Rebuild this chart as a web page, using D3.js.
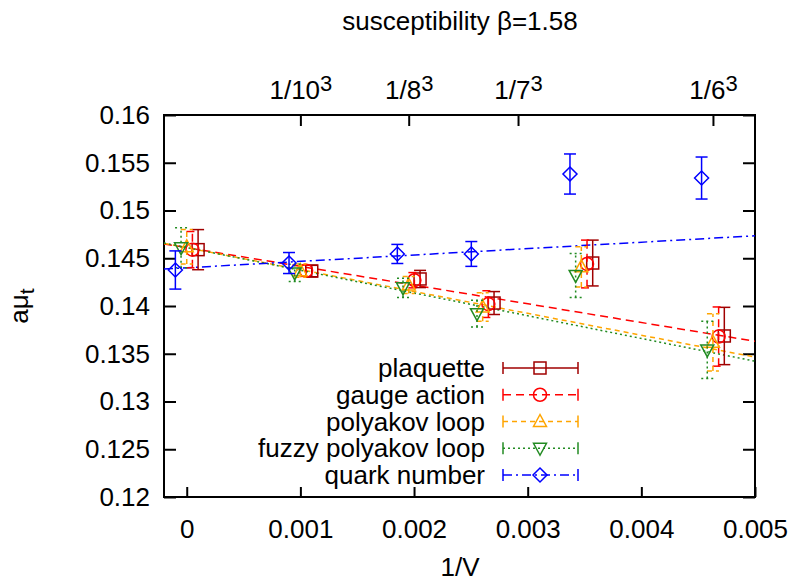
<!DOCTYPE html>
<html><head><meta charset="utf-8">
<script src="https://cdn.jsdelivr.net/npm/d3@7"></script>
<style>body{margin:0;background:#fff;overflow:hidden} text{font-family:"Liberation Sans",Arial,Helvetica,sans-serif;fill:#000}</style>
</head><body><svg id="c" width="798" height="582"></svg>
<script>
// ---- data ----
const volumes = [0, 0.001, 0.001953, 0.002604, 0.003472, 0.00463];
const seriesNames = ["plaquette", "gauge action", "polyakov loop", "fuzzy polyakov loop", "quark number"];
const plaquette      = [0.1459, 0.14366, 0.14283, 0.14031, 0.1445, 0.13686];
const plaquetteErr   = [0.0021, 0.0006, 0.0009, 0.0012, 0.0024, 0.0030];
const gaugeAction    = [0.1459, 0.1437, 0.1427, 0.1402, 0.1444, 0.1368];
const gaugeActionErr = [0.0019, 0.0006, 0.0008, 0.0014, 0.0025, 0.0031];
const polyakov       = [0.1462, 0.1437, 0.1422, 0.1399, 0.1441, 0.1362];
const polyakovErr    = [0.0018, 0.0007, 0.0009, 0.0015, 0.0021, 0.0030];
const fuzzyPolyakov  = [0.1461, 0.14346, 0.1419, 0.1392, 0.1432, 0.1354];
const fuzzyPolyakovErr = [0.0021, 0.0009, 0.0010, 0.0014, 0.0023, 0.0030];
const quarkNumber    = [0.14377, 0.1445, 0.14545, 0.14545, 0.15382, 0.1534];
const quarkNumberErr = [0.0020, 0.0011, 0.0010, 0.0013, 0.0021, 0.0022];
// horizontal display shift of each series (data units)
const xShift = [0.0001, 0.00005, 0, -0.00005, -0.0001];
// linear fits: intercept, slope (null = no fit drawn)
const fitIntercept = [null, 0.14611, 0.1461, 0.14612, 0.1440];
const fitSlope     = [null, -1.96, -2.29, -2.38, 0.67];
const xTicks = [0, 0.001, 0.002, 0.003, 0.004, 0.005];
const xTickLabels = ["0", "0.001", "0.002", "0.003", "0.004", "0.005"];
const yTicks = [0.12, 0.125, 0.13, 0.135, 0.14, 0.145, 0.15, 0.155, 0.16];
const yTickLabels = ["0.12", "0.125", "0.13", "0.135", "0.14", "0.145", "0.15", "0.155", "0.16"];
const topTicks = [0.001, 0.001953, 0.002915, 0.00463];
const topTickBase = ["1/10", "1/8", "1/7", "1/6"];
const topTickSup = ["3", "3", "3", "3"];

// ---- styles ----
const colors = ["#a00000", "#ff0000", "#ffa500", "#228b22", "#0000ff"];
const dashes = [null, "8,5", "5,4", "2,3", "9,4,2,4"];
const errDashes = [null, "8,5", "5,4", "2,3", null];
const shapes = ["square", "circle", "tri", "itri", "diamond"];

const values = [plaquette, gaugeAction, polyakov, fuzzyPolyakov, quarkNumber];
const errs = [plaquetteErr, gaugeActionErr, polyakovErr, fuzzyPolyakovErr, quarkNumberErr];

const L = 164, R = 755, T = 115, B = 497;
const x = d3.scaleLinear().domain([-0.0002, 0.005]).range([L, R]);
const y = d3.scaleLinear().domain([0.12, 0.16]).range([B, T]);
const svg = d3.select("#c");
const FS = 26;

svg.append("defs").append("clipPath").attr("id", "clip")
  .append("rect").attr("x", L).attr("y", T).attr("width", R - L).attr("height", B - T);

// axes
function styleAxis(g) {
  g.select(".domain").remove();
  g.selectAll(".tick line").attr("stroke", "#000").attr("stroke-width", 2);
  g.selectAll(".tick text").attr("font-size", FS).attr("font-family", '"Liberation Sans",Arial,sans-serif').attr("fill", "#000");
}
svg.append("g").attr("transform", `translate(${L},0)`)
  .call(d3.axisLeft(y).tickValues(yTicks).tickFormat((d, i) => yTickLabels[i]).tickSize(-12).tickPadding(14))
  .call(styleAxis);
svg.append("g").attr("transform", `translate(${R},0)`)
  .call(d3.axisRight(y).tickValues(yTicks).tickFormat("").tickSize(-12))
  .call(styleAxis);
svg.append("g").attr("transform", `translate(0,${B})`)
  .call(d3.axisBottom(x).tickValues(xTicks).tickFormat((d, i) => xTickLabels[i]).tickSize(-10).tickPadding(23))
  .call(styleAxis);
const topAx = svg.append("g").attr("transform", `translate(0,${T})`)
  .call(d3.axisTop(x).tickValues(topTicks).tickFormat("").tickSize(-11))
  .call(styleAxis);
topAx.selectAll(".tick").each(function (d, i) {
  const t = d3.select(this).append("text").attr("text-anchor", "middle").attr("y", 99 - T)
    .attr("font-size", FS).attr("fill", "#000");
  t.append("tspan").text(topTickBase[i]);
  t.append("tspan").attr("font-size", 22).attr("dy", -8).text(topTickSup[i]);
});

// frame
svg.append("rect").attr("x", L).attr("y", T).attr("width", R - L).attr("height", B - T)
  .attr("fill", "none").attr("stroke", "#000").attr("stroke-width", 2);

// marker
function marker(g, shape, cx, cy, color) {
  let m;
  if (shape === "square") m = g.append("rect").attr("x", cx - 6).attr("y", cy - 6).attr("width", 12).attr("height", 12);
  else if (shape === "circle") m = g.append("circle").attr("cx", cx).attr("cy", cy).attr("r", 6.5);
  else {
    let pts;
    if (shape === "tri") pts = [[cx, cy - 7], [cx - 6.5, cy + 5], [cx + 6.5, cy + 5]];
    else if (shape === "itri") pts = [[cx, cy + 7], [cx - 6.5, cy - 5], [cx + 6.5, cy - 5]];
    else pts = [[cx, cy - 7], [cx + 7, cy], [cx, cy + 7], [cx - 7, cy]];
    m = g.append("polygon").attr("points", pts.map(p => p.join(",")).join(" "));
  }
  m.attr("fill", "none").attr("stroke", color).attr("stroke-width", 1.5);
}

// fits
const plot = svg.append("g").attr("clip-path", "url(#clip)");
seriesNames.forEach((name, si) => {
  if (fitIntercept[si] === null) return;
  const dom = x.domain();
  plot.append("line")
    .attr("x1", x(dom[0])).attr("y1", y(fitIntercept[si] + fitSlope[si] * dom[0]))
    .attr("x2", x(dom[1])).attr("y2", y(fitIntercept[si] + fitSlope[si] * dom[1]))
    .attr("stroke", colors[si]).attr("stroke-width", 1.5)
    .attr("stroke-dasharray", dashes[si]);
});

// points with error bars
seriesNames.forEach((name, si) => {
  const g = svg.append("g");
  volumes.forEach((v, i) => {
    const cx = x(v + xShift[si]);
    const cy = y(values[si][i]);
    const y1 = y(values[si][i] - errs[si][i]), y2 = y(values[si][i] + errs[si][i]);
    const st = sel => sel.attr("stroke", colors[si]).attr("stroke-width", 1.5).attr("stroke-dasharray", errDashes[si]);
    g.append("line").attr("x1", cx).attr("x2", cx).attr("y1", y1).attr("y2", y2).call(st);
    g.append("line").attr("x1", cx - 6).attr("x2", cx + 6).attr("y1", y1).attr("y2", y1).call(st);
    g.append("line").attr("x1", cx - 6).attr("x2", cx + 6).attr("y1", y2).attr("y2", y2).call(st);
    marker(g, shapes[si], cx, cy, colors[si]);
  });
});

// legend
seriesNames.forEach((name, si) => {
  const ly = 368 + si * 26.75;
  svg.append("text").attr("x", 485).attr("y", ly + 9).attr("text-anchor", "end")
    .attr("font-size", FS).text(name);
  svg.append("line").attr("x1", 503).attr("x2", 578).attr("y1", ly).attr("y2", ly)
    .attr("stroke", colors[si]).attr("stroke-width", 1.5).attr("stroke-dasharray", dashes[si]);
  svg.append("line").attr("x1", 503).attr("x2", 503).attr("y1", ly - 6).attr("y2", ly + 6).attr("stroke", colors[si]).attr("stroke-width", 1.5);
  svg.append("line").attr("x1", 578).attr("x2", 578).attr("y1", ly - 6).attr("y2", ly + 6).attr("stroke", colors[si]).attr("stroke-width", 1.5);
  marker(svg, shapes[si], 540, ly, colors[si]);
});

// titles
svg.append("text").attr("x", 460).attr("y", 30).attr("text-anchor", "middle").attr("font-size", FS)
  .text("susceptibility β=1.58");
svg.append("text").attr("x", 460).attr("y", 576).attr("text-anchor", "middle").attr("font-size", FS)
  .text("1/V");
function yLabel(tx) {
  const t = svg.append("text").attr("transform", `translate(${tx},306) rotate(-90)`)
    .attr("text-anchor", "middle").attr("font-size", FS);
  t.append("tspan").text("aμ");
  t.append("tspan").attr("font-size", 21).attr("dy", 6).text("t");
}
yLabel(28);
yLabel(815); // neighbouring panel's label, clipped at the right edge
</script></body></html>
